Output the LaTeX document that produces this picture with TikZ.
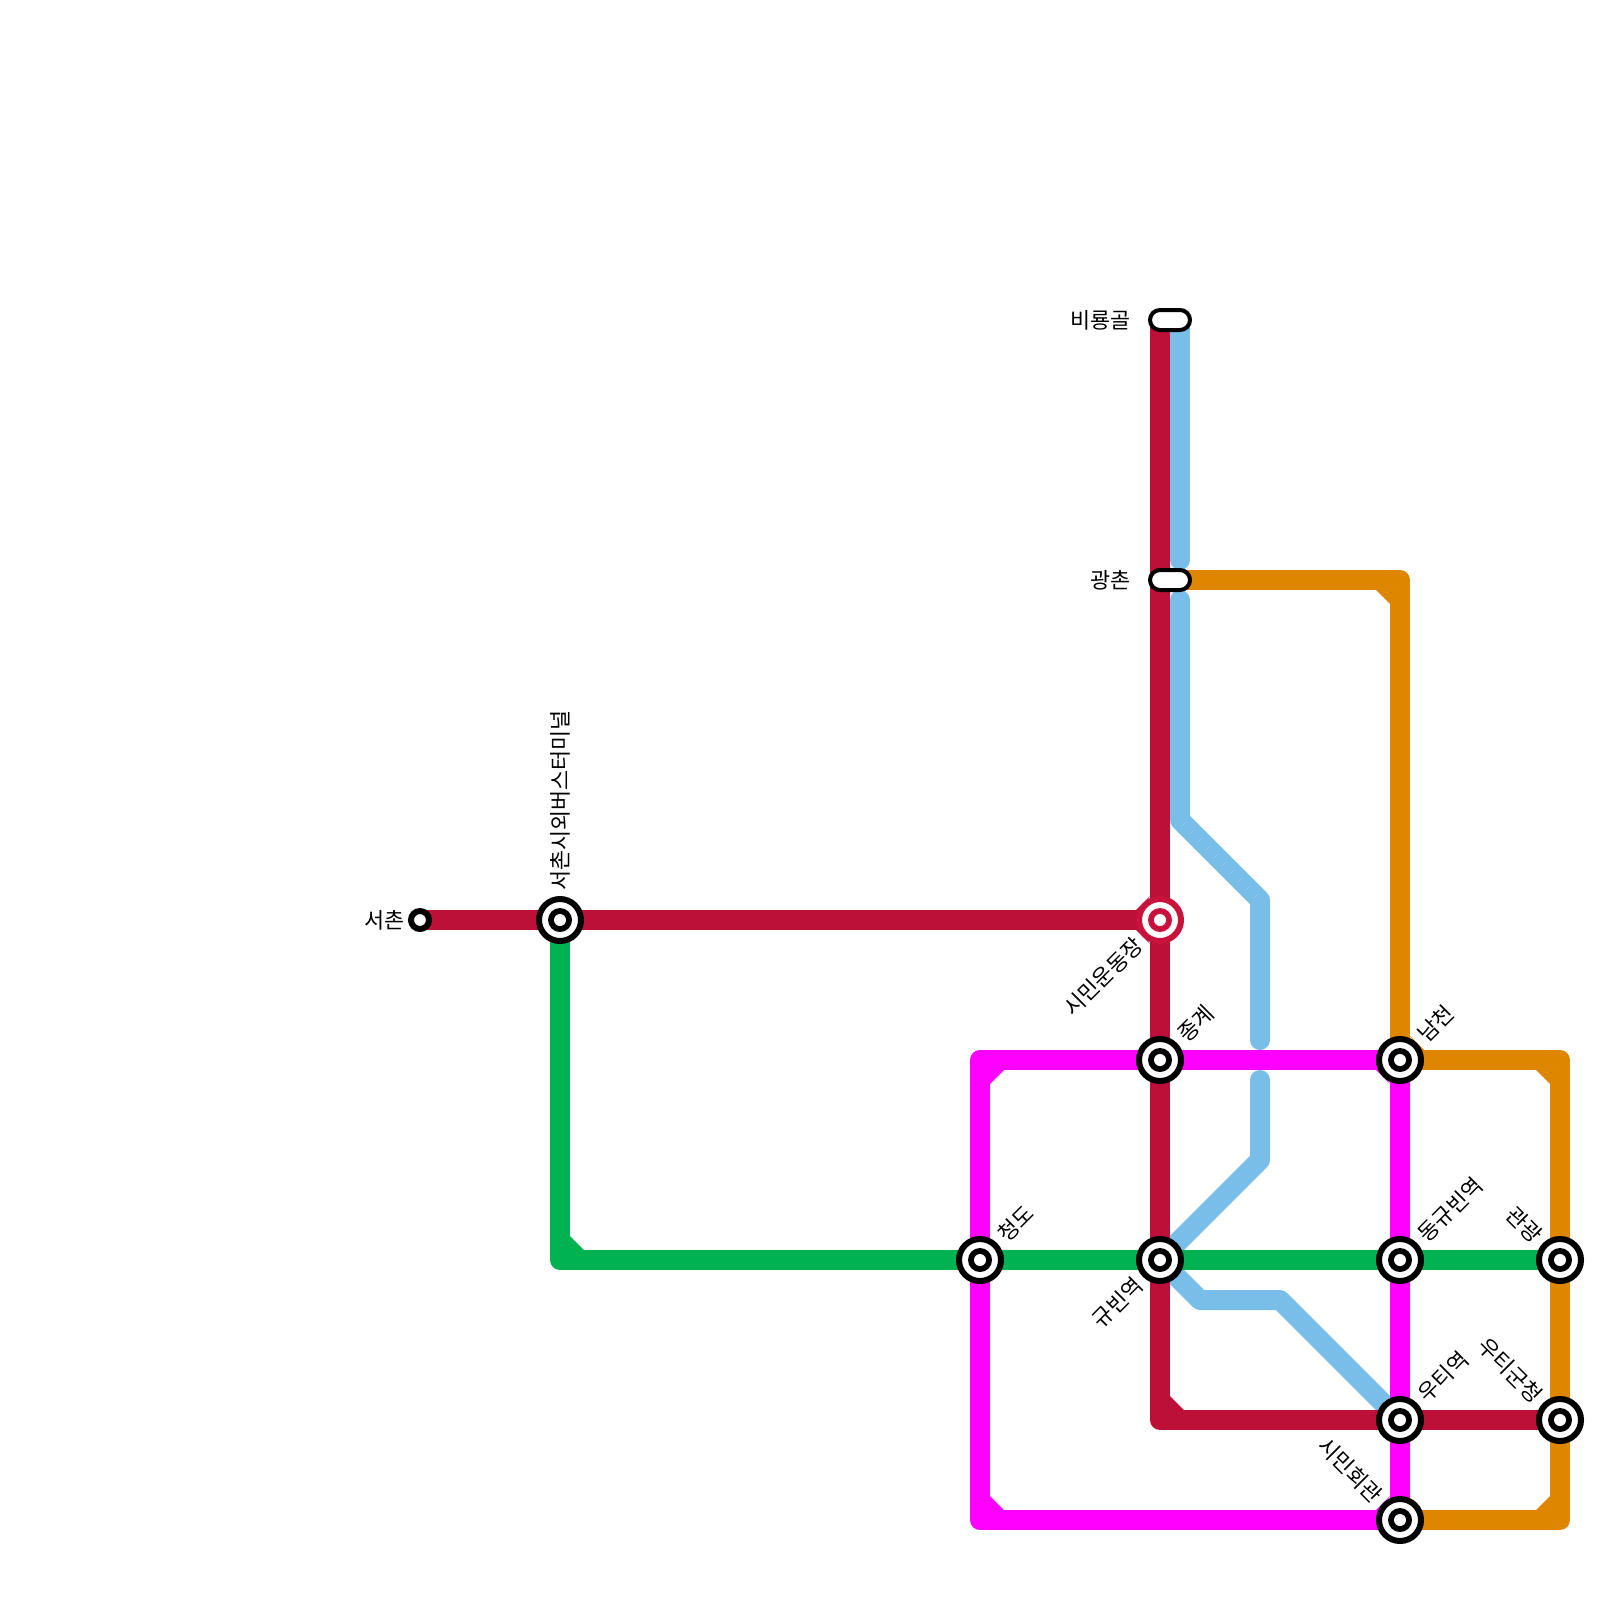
\documentclass[tikz,border=0pt]{standalone}
\usepackage{fontspec}
\setmainfont{Noto Sans CJK KR}
\usepackage{xcolor}
\usetikzlibrary{positioning,calc,backgrounds}
\definecolor{redline}{HTML}{BD1038}
\definecolor{redring}{HTML}{C8143C}
\definecolor{blueline}{HTML}{79BDE9}
\definecolor{orangeline}{HTML}{DF8600}
\definecolor{greenline}{HTML}{00B251}
\definecolor{pinkline}{HTML}{FF00FF}

\begin{document}
\begin{tikzpicture}[on grid,
  line/.style={line width=10pt,line join=round},
  ringdot/.style={circle,draw=#1,fill=white,line width=3pt,minimum size=21pt,inner sep=0pt,outer sep=0pt,
    path picture={\fill[#1] (path picture bounding box.center) circle (6pt);
      \fill[white] (path picture bounding box.center) circle (3pt);}},
  transfer/.style={ringdot=black},
  smalldot/.style={circle,draw=black,fill=white,line width=3pt,minimum size=9pt,inner sep=0pt,outer sep=0pt},
  pill/.style={draw=black,fill=white,line width=2pt,minimum width=20pt,minimum height=10pt,inner sep=0pt,outer sep=0pt,rounded corners=5pt},
  stationlabel/.style={font=\fontsize{10.9pt}{12pt}\selectfont,text=black,inner sep=0pt}]
  \useasboundingbox (0,0) rectangle (800pt,-800pt);
  % Stations
  \node[smalldot] (seochon) at (210pt,-460pt) {};
  \node[transfer] (terminal) [right=70pt of seochon] {};
  \node[ringdot=redring] (undong) [right=300pt of terminal] {};
  \node[transfer] (junggye) [below=70pt of undong] {};
  \node[transfer] (gyubin) [below=100pt of junggye] {};
  \node[transfer] (cheongdo) [left=90pt of gyubin] {};
  \node[transfer] (namcheon) [right=120pt of junggye] {};
  \node[transfer] (donggyu) [below=100pt of namcheon] {};
  \node[transfer] (gwangwang) [right=80pt of donggyu] {};
  \node[transfer] (uti) [below=80pt of donggyu] {};
  \node[transfer] (county) [right=80pt of uti] {};
  \node[transfer] (simin) [below=50pt of uti] {};
  \node[pill] (gwangchon) [above=170pt of undong,xshift=5pt] {};
  \node[pill] (biryong) [above=130pt of gwangchon] {};
  % Corners and bends
  \coordinate (redtop) at (undong |- biryong);
  \coordinate (redcorner) at (gyubin |- uti);
  \coordinate (greencorner) at (terminal |- gyubin);
  \coordinate (pinktop) at (cheongdo |- junggye);
  \coordinate (pinkbottom) at (cheongdo |- simin);
  \coordinate (orangetop) at (namcheon |- gwangchon);
  \coordinate (orangeright) at (gwangwang |- namcheon);
  \coordinate (orangebottom) at (county |- simin);
  \coordinate (bluetop) at (590pt,-160pt);
  \coordinate (blueend) at (590pt,-280pt);
  \coordinate (bluestart) at (590pt,-300pt);
  \coordinate (bluebend) at (590pt,-410pt);
  \coordinate (blueout) at (630pt,-450pt);
  \coordinate (bluegap) at (630pt,-520pt);
  \coordinate (blueback) at (630pt,-540pt);
  \coordinate (bluedown) at (630pt,-580pt);
  \coordinate (blueflat) at (600pt,-650pt);
  \coordinate (blueflatend) at (640pt,-650pt);
  % Lines
  \begin{scope}[on background layer]
    \draw[line,blueline,line cap=round] (bluetop) -- (blueend);
    \draw[line,blueline,line cap=round] (bluestart) -- (bluebend) -- (blueout) -- (bluegap);
    \draw[line,blueline,line cap=round] (blueback) -- (bluedown) -- (gyubin.center);
    \draw[line,blueline] (gyubin.center) -- (blueflat) -- (blueflatend) -- (uti.center);
    \draw[line,redline] (seochon.center) -- (undong.center);
    \draw[line,redline] (redtop) -- (redcorner) -- (county.center);
    \draw[line,greenline] (terminal.center) -- (greencorner) -- (gwangwang.center);
    \draw[line,pinkline] (namcheon.center) -- (pinktop) -- (pinkbottom) -- (simin.center) -- cycle;
    \draw[line,orangeline] (gwangchon.center) -- (orangetop) -- (namcheon.center) -- (orangeright) -- (orangebottom) -- (simin.center);
    % Cut inner corners
    \foreach \bend/\sx/\sy/\col in {orangetop/-1/-1/orangeline,orangeright/-1/-1/orangeline,orangebottom/-1/1/orangeline,
      namcheon/1/1/orangeline,namcheon/-1/-1/pinkline,simin/-1/1/pinkline,pinktop/1/-1/pinkline,pinkbottom/1/1/pinkline,
      redcorner/1/1/redline,undong/-1/1/redline,undong/-1/-1/redline,greencorner/1/1/greenline}
      \fill[\col] (\bend) -- ++(\sx*12pt,\sy*5pt) -- ++(-\sx*7pt,\sy*7pt) -- cycle;
  \end{scope}
  % Labels
  \node[stationlabel,anchor=east] (seochonlabel) at ([xshift=-7.5pt]seochon.center) {서촌};
  \node[stationlabel,rotate=90,anchor=west] (terminallabel) at ([yshift=14.5pt]terminal.center) {서촌시외버스터미널};
  \node[stationlabel,anchor=east] (biryonglabel) at ([xshift=-19.7pt]biryong.center) {비룡골};
  \node[stationlabel,anchor=east] (gwangchonlabel) at ([xshift=-19.7pt]gwangchon.center) {광촌};
  \node[stationlabel,rotate=45,anchor=east] (undonglabel) at ([shift={(-10.5pt,-10.5pt)}]undong.center) {시민운동장};
  \node[stationlabel,rotate=45,anchor=east] (gyubinlabel) at ([shift={(-10.5pt,-10.5pt)}]gyubin.center) {규빈역};
  \foreach \st/\txt in {junggye/종계,cheongdo/청도,namcheon/남천,donggyu/동규빈역,uti/우티역}
    \node[stationlabel,rotate=45,anchor=west] (\st label) at ([shift={(10.8pt,10.8pt)}]\st.center) {\txt};
  \foreach \st/\txt in {gwangwang/관광,county/우티군청,simin/시민회관}
    \node[stationlabel,rotate=-45,anchor=east] (\st label) at ([shift={(-10.5pt,10.5pt)}]\st.center) {\txt};
\end{tikzpicture}
\end{document}
